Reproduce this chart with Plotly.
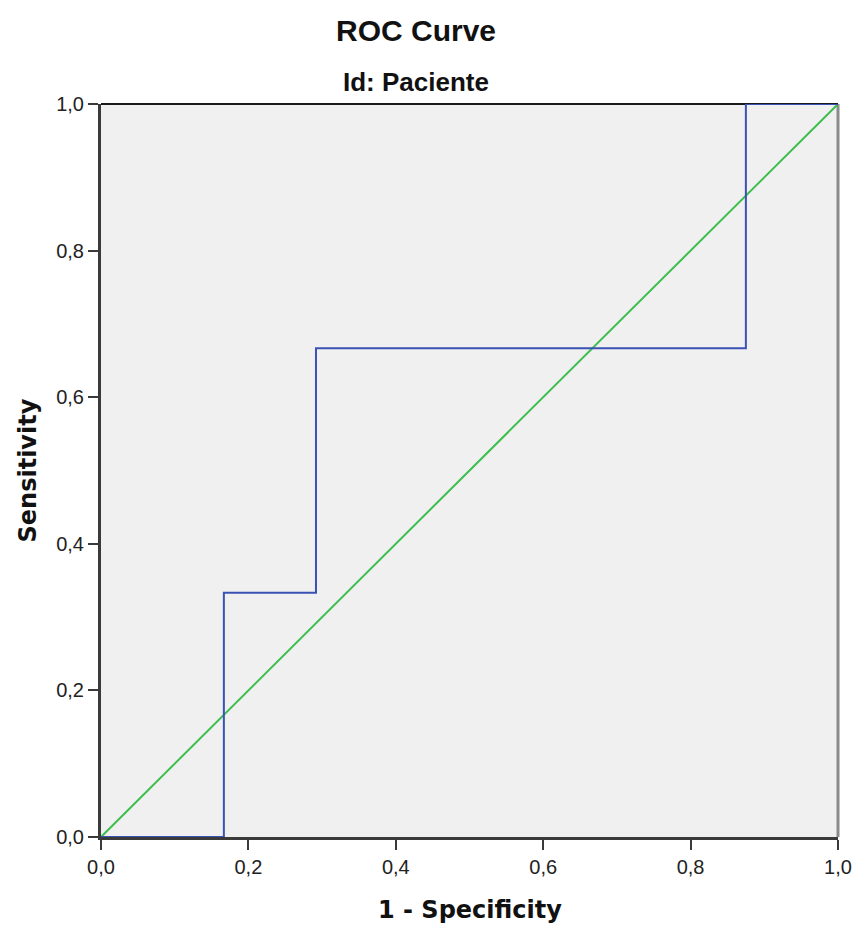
import plotly.graph_objects as go

# ROC curve coordinates (1 - specificity, sensitivity)
fpr = [0.0, 0.1667, 0.1667, 0.2917, 0.2917, 0.875, 0.875, 1.0]
tpr = [0.0, 0.0, 0.3333, 0.3333, 0.6667, 0.6667, 1.0, 1.0]

# Reference diagonal
ref_x = [0.0, 1.0]
ref_y = [0.0, 1.0]

tick_vals = [0.0, 0.2, 0.4, 0.6, 0.8, 1.0]
tick_text = ["0,0", "0,2", "0,4", "0,6", "0,8", "1,0"]

W, H = 854, 925
L, R, T, B = 101, 16, 104, 88
PW = W - L - R
PH = H - T - B

fig = go.Figure()
fig.add_trace(go.Scatter(x=ref_x, y=ref_y, mode="lines",
                         line=dict(color="#3DBE4E", width=2), showlegend=False,
                         hoverinfo="skip"))
fig.add_trace(go.Scatter(x=fpr, y=tpr, mode="lines",
                         line=dict(color="#3A52B4", width=2),
                         showlegend=False))

# Top and right frame lines of the plot area (kept beneath the curves)
fig.add_shape(type="line", xref="paper", yref="paper", x0=0, x1=1, y0=1, y1=1,
              layer="below", line=dict(color="#1a1a1a", width=2))
fig.add_shape(type="line", xref="paper", yref="paper", x0=1, x1=1, y0=0, y1=1,
              layer="below", line=dict(color="#8a8a8a", width=3))

axis_common = dict(
    range=[0, 1], tickvals=tick_vals, ticktext=tick_text,
    ticks="outside", ticklen=10, tickwidth=2, tickcolor="#3a3a3a",
    showline=True, linecolor="#3a3a3a", linewidth=3,
    showgrid=False, zeroline=False, fixedrange=True, automargin=False,
    tickfont=dict(family="Liberation Sans", size=20, color="#222222"),
)

title_font = dict(family="Liberation Sans", color="#111111")
axis_title_font = dict(family="DejaVu Sans", size=24, color="#111111")

cx = (416 - L) / PW  # horizontal centre of the heading block

fig.update_layout(
    width=W, height=H,
    margin=dict(l=L, r=R, t=T, b=B),
    paper_bgcolor="white", plot_bgcolor="#F0F0F0",
    xaxis=axis_common, yaxis=axis_common,
    annotations=[
        dict(text="<b>ROC Curve</b>", xref="paper", yref="paper",
             x=cx, y=1, yshift=T - 30, xanchor="center", yanchor="middle",
             showarrow=False, font=dict(size=30, **title_font)),
        dict(text="<b>Id: Paciente</b>", xref="paper", yref="paper",
             x=cx, y=1, yshift=T - 82, xanchor="center", yanchor="middle",
             showarrow=False, font=dict(size=26, **title_font)),
        dict(text="<b>1 - Specificity</b>", xref="paper", yref="paper",
             x=0.5, y=0, yshift=-(910 - (T + PH)), xanchor="center", yanchor="middle",
             showarrow=False, font=axis_title_font),
        dict(text="<b>Sensitivity</b>", xref="paper", yref="paper",
             x=0, y=0.5, xshift=-(L - 27), xanchor="center", yanchor="middle",
             textangle=-90, showarrow=False, font=axis_title_font),
    ],
)

fig.write_html("out.html")
